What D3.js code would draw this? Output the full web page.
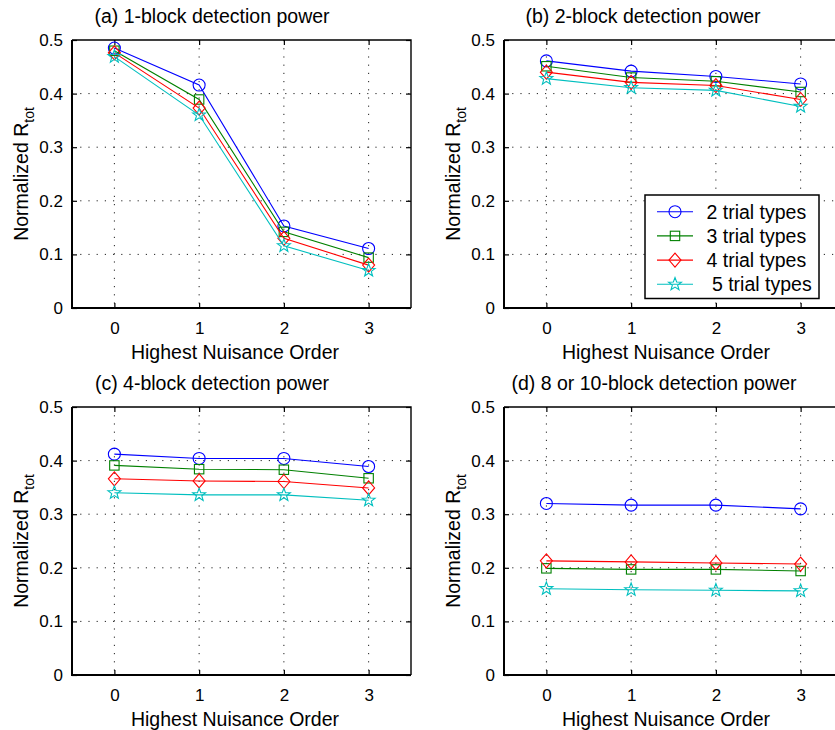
<!DOCTYPE html>
<html>
<head>
<meta charset="utf-8">
<script src="https://cdn.jsdelivr.net/npm/d3@7"></script>
<style>
  html, body { margin: 0; padding: 0; background: #fff; }
  svg { display: block; }
  text { font-family: "Liberation Sans", Arial, Helvetica, sans-serif; fill: #000; }
</style>
</head>
<body>
<svg id="fig" width="835" height="730"></svg>
<script>
// Highest nuisance order on the x axis
const orders = [0, 1, 2, 3];
const xTicks = [0, 1, 2, 3];
const yTicks = [0, 0.1, 0.2, 0.3, 0.4, 0.5];
const yTickLabels = ["0", "0.1", "0.2", "0.3", "0.4", "0.5"];

const seriesNames = ["2 trial types", "3 trial types", "4 trial types", " 5 trial types"];
const seriesColors = ["#0000ff", "#008000", "#ff0000", "#00bfbf"];
const seriesMarkers = ["circle", "square", "diamond", "star"];

const panelTitles = [
  "(a) 1-block detection power",
  "(b) 2-block detection power",
  "(c) 4-block detection power",
  "(d) 8 or 10-block detection power"
];

// Normalized R_tot, one row per trial-type count (2, 3, 4, 5)
const block1 = [
  [0.485, 0.416, 0.153, 0.111],
  [0.480, 0.389, 0.142, 0.094],
  [0.476, 0.373, 0.130, 0.080],
  [0.469, 0.360, 0.116, 0.070]
];
const block2 = [
  [0.461, 0.442, 0.432, 0.418],
  [0.451, 0.430, 0.423, 0.403],
  [0.440, 0.421, 0.415, 0.389],
  [0.428, 0.411, 0.406, 0.376]
];
const block4 = [
  [0.412, 0.404, 0.404, 0.389],
  [0.391, 0.384, 0.383, 0.367],
  [0.366, 0.362, 0.361, 0.349],
  [0.340, 0.336, 0.336, 0.326]
];
const block8 = [
  [0.320, 0.317, 0.317, 0.310],
  [0.199, 0.197, 0.197, 0.194],
  [0.213, 0.211, 0.209, 0.207],
  [0.161, 0.159, 0.158, 0.157]
];

const svg = d3.select("#fig");
const W = 339, H = 268;

const panels = [
  { data: block1, left: 72,  top: 40,  titleX: 212, labelX: 235, legend: false },
  { data: block2, left: 504, top: 40,  titleX: 643, labelX: 666, legend: true },
  { data: block4, left: 72,  top: 407, titleX: 212, labelX: 235, legend: false },
  { data: block8, left: 504, top: 407, titleX: 654, labelX: 666, legend: false }
];

const x = d3.scaleLinear().domain([-0.5, 3.5]).range([0, W]);
const y = d3.scaleLinear().domain([0, 0.5]).range([H, 0]);

function drawMarker(g, type, cx, cy, color) {
  if (type === "circle") {
    g.append("circle").attr("cx", cx).attr("cy", cy).attr("r", 6)
      .attr("fill", "none").attr("stroke", color).attr("stroke-width", 1.1);
  } else if (type === "square") {
    g.append("rect").attr("x", cx - 4.7).attr("y", cy - 4.7).attr("width", 9.4).attr("height", 9.4)
      .attr("fill", "none").attr("stroke", color).attr("stroke-width", 1.1);
  } else if (type === "diamond") {
    const p = [[cx, cy - 7], [cx + 6, cy], [cx, cy + 7], [cx - 6, cy]];
    g.append("path").attr("d", "M" + p.join("L") + "Z")
      .attr("fill", "none").attr("stroke", color).attr("stroke-width", 1.1);
  } else {
    const pts = [];
    for (let i = 0; i < 10; i++) {
      const r = i % 2 === 0 ? 6.8 : 2.8;
      const a = -Math.PI / 2 + i * Math.PI / 5;
      pts.push([cx + r * Math.cos(a), cy + r * Math.sin(a)]);
    }
    g.append("path").attr("d", "M" + pts.join("L") + "Z")
      .attr("fill", "none").attr("stroke", color).attr("stroke-width", 1.1);
  }
}

panels.forEach((p, pi) => {
  const g = svg.append("g").attr("transform", `translate(${p.left},${p.top})`);

  // dotted grid
  const grid = g.append("g");
  yTicks.filter(v => v > 0 && v < 0.5).forEach(v => {
    grid.append("line").attr("x1", 0).attr("x2", W).attr("y1", y(v)).attr("y2", y(v))
      .attr("stroke", "#222").attr("stroke-width", 1).attr("stroke-dasharray", "1.2,7");
  });
  xTicks.forEach(v => {
    grid.append("line").attr("x1", x(v)).attr("x2", x(v)).attr("y1", 0).attr("y2", H)
      .attr("stroke", "#222").attr("stroke-width", 1).attr("stroke-dasharray", "1.2,7");
  });

  // axes with inward ticks
  const fmt = v => yTickLabels[yTicks.indexOf(v)];
  const ax = g.append("g").attr("font-size", 17);
  ax.append("g").call(d3.axisLeft(y).tickValues(yTicks).tickFormat(fmt).tickSize(-5).tickSizeOuter(0).tickPadding(9))
    .call(s => { s.select(".domain").remove(); s.selectAll("text").attr("font-size", 17).attr("font-family", null); });
  ax.append("g").attr("transform", `translate(0,${H})`)
    .call(d3.axisBottom(x).tickValues(xTicks).tickFormat(d3.format("d")).tickSize(-5).tickSizeOuter(0).tickPadding(13.5))
    .call(s => { s.select(".domain").remove(); s.selectAll("text").attr("font-size", 17).attr("font-family", null); });
  ax.append("g").attr("transform", `translate(${W},0)`)
    .call(d3.axisRight(y).tickValues(yTicks).tickFormat("").tickSize(-5).tickSizeOuter(0))
    .call(s => s.select(".domain").remove());
  ax.append("g")
    .call(d3.axisTop(x).tickValues(xTicks).tickFormat("").tickSize(-5).tickSizeOuter(0))
    .call(s => s.select(".domain").remove());
  ax.selectAll(".tick line").attr("stroke", "#000").attr("stroke-width", 1.2);

  // frame
  g.append("path").attr("d", `M0,0H${W}V${H}`).attr("fill", "none")
    .attr("stroke", "#000").attr("stroke-width", 1.4);
  g.append("path").attr("d", `M0,0V${H}H${W}`).attr("fill", "none")
    .attr("stroke", "#000").attr("stroke-width", 2);

  // series
  const line = d3.line().x((d, i) => x(orders[i])).y(d => y(d));
  p.data.forEach((vals, si) => {
    const sg = g.append("g");
    sg.append("path").attr("d", line(vals)).attr("fill", "none")
      .attr("stroke", seriesColors[si]).attr("stroke-width", 1.1);
    vals.forEach((v, i) => drawMarker(sg, seriesMarkers[si], x(orders[i]), y(v), seriesColors[si]));
  });

  // title
  svg.append("text").attr("x", p.titleX).attr("y", p.top - 17)
    .attr("text-anchor", "middle").attr("font-size", 19.5).text(panelTitles[pi]);

  // x label
  svg.append("text").attr("x", p.labelX).attr("y", p.top + H + 51)
    .attr("text-anchor", "middle").attr("font-size", 19.5).text("Highest Nuisance Order");

  // y label with subscript
  const yl = svg.append("text")
    .attr("transform", `translate(${p.left - 44},${p.top + H / 2}) rotate(-90)`)
    .attr("text-anchor", "middle").attr("font-size", 19.5);
  yl.append("tspan").text("Normalized R");
  yl.append("tspan").attr("font-size", 14).attr("dy", 6).text("tot");

  // legend
  if (p.legend) {
    const lg = svg.append("g").attr("transform", "translate(645,195)");
    lg.append("rect").attr("x", 0).attr("y", 0).attr("width", 174).attr("height", 103.5)
      .attr("fill", "#fff").attr("stroke", "#000").attr("stroke-width", 1.5);
    seriesNames.forEach((name, si) => {
      const cy = 16.7 + si * 24.2;
      lg.append("line").attr("x1", 12).attr("x2", 48).attr("y1", cy).attr("y2", cy)
        .attr("stroke", seriesColors[si]).attr("stroke-width", 1.1);
      drawMarker(lg, seriesMarkers[si], 30, cy, seriesColors[si]);
      lg.append("text").attr("x", 61.5).attr("y", cy + 7).attr("font-size", 19.5)
        .attr("xml:space", "preserve").style("white-space", "pre").text(name);
    });
  }
});
</script>
</body>
</html>
